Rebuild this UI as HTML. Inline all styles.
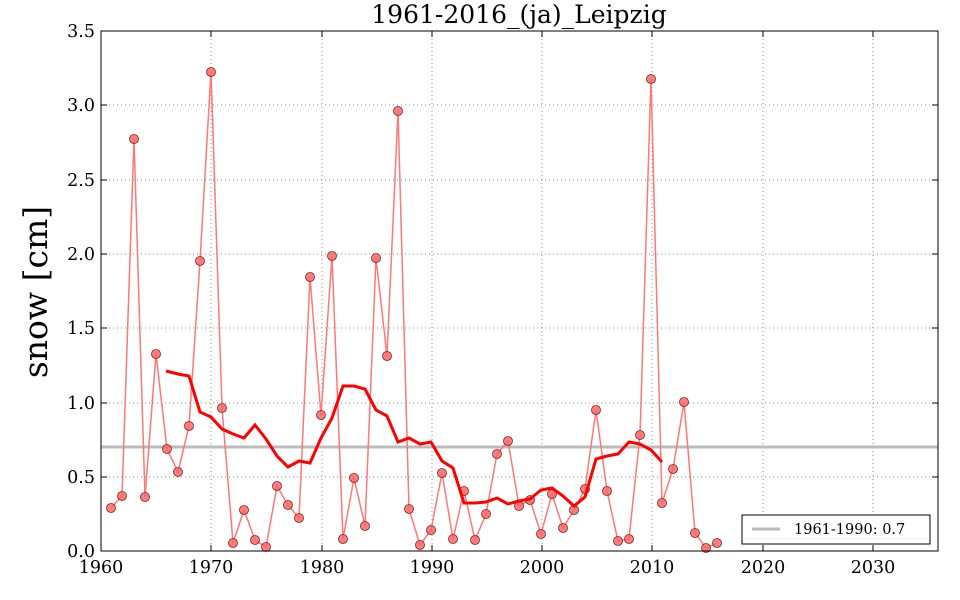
<!DOCTYPE html>
<html><head><meta charset="utf-8"><style>
html,body{margin:0;padding:0;background:#fff;}
svg{display:block;}
text{font-family:"DejaVu Serif","Liberation Serif",serif;fill:#000;}
</style></head><body>
<svg width="960" height="600" viewBox="0 0 960 600" xmlns="http://www.w3.org/2000/svg">
<rect width="960" height="600" fill="#fff"/>
<g stroke="#888" stroke-width="0.9" stroke-dasharray="1,3">
<line x1="211" y1="31" x2="211" y2="551"/><line x1="322" y1="31" x2="322" y2="551"/>
<line x1="432" y1="31" x2="432" y2="551"/><line x1="542" y1="31" x2="542" y2="551"/>
<line x1="652" y1="31" x2="652" y2="551"/><line x1="763" y1="31" x2="763" y2="551"/>
<line x1="873" y1="31" x2="873" y2="551"/>
<line x1="101" y1="477" x2="938" y2="477"/><line x1="101" y1="403" x2="938" y2="403"/>
<line x1="101" y1="328" x2="938" y2="328"/><line x1="101" y1="254" x2="938" y2="254"/>
<line x1="101" y1="180" x2="938" y2="180"/><line x1="101" y1="105" x2="938" y2="105"/>
</g>
<line x1="101" y1="447" x2="938" y2="447" stroke="#bbb" stroke-width="3"/>
<polyline fill="none" stroke="#f77" stroke-width="1.5" points="111,508 122,496 134,139 145,497 156,354 167,449 178,472 189,426 200,261 211,72 222,408 233,543 244,510 255,540 266,547 277,486 288,505 299,518 310,277 321,415 332,256 343,539 354,478 365,526 376,258 387,356 398,111 409,509 420,545 431,530 442,473 453,539 464,491 475,540 486,514 497,454 508,441 519,506 530,500 541,534 552,494 563,528 574,510 585,489 596,410 607,491 618,541 629,539 640,435 651,79 662,503 673,469 684,402 695,533 706,548 717,543"/>
<g fill="#f66" fill-opacity="0.85" stroke="#722" stroke-width="0.8">
<circle cx="111" cy="508" r="4.5"/><circle cx="122" cy="496" r="4.5"/><circle cx="134" cy="139" r="4.5"/><circle cx="145" cy="497" r="4.5"/><circle cx="156" cy="354" r="4.5"/><circle cx="167" cy="449" r="4.5"/><circle cx="178" cy="472" r="4.5"/><circle cx="189" cy="426" r="4.5"/><circle cx="200" cy="261" r="4.5"/><circle cx="211" cy="72" r="4.5"/><circle cx="222" cy="408" r="4.5"/><circle cx="233" cy="543" r="4.5"/><circle cx="244" cy="510" r="4.5"/><circle cx="255" cy="540" r="4.5"/><circle cx="266" cy="547" r="4.5"/><circle cx="277" cy="486" r="4.5"/><circle cx="288" cy="505" r="4.5"/><circle cx="299" cy="518" r="4.5"/><circle cx="310" cy="277" r="4.5"/><circle cx="321" cy="415" r="4.5"/><circle cx="332" cy="256" r="4.5"/><circle cx="343" cy="539" r="4.5"/><circle cx="354" cy="478" r="4.5"/><circle cx="365" cy="526" r="4.5"/><circle cx="376" cy="258" r="4.5"/><circle cx="387" cy="356" r="4.5"/><circle cx="398" cy="111" r="4.5"/><circle cx="409" cy="509" r="4.5"/><circle cx="420" cy="545" r="4.5"/><circle cx="431" cy="530" r="4.5"/><circle cx="442" cy="473" r="4.5"/><circle cx="453" cy="539" r="4.5"/><circle cx="464" cy="491" r="4.5"/><circle cx="475" cy="540" r="4.5"/><circle cx="486" cy="514" r="4.5"/><circle cx="497" cy="454" r="4.5"/><circle cx="508" cy="441" r="4.5"/><circle cx="519" cy="506" r="4.5"/><circle cx="530" cy="500" r="4.5"/><circle cx="541" cy="534" r="4.5"/><circle cx="552" cy="494" r="4.5"/><circle cx="563" cy="528" r="4.5"/><circle cx="574" cy="510" r="4.5"/><circle cx="585" cy="489" r="4.5"/><circle cx="596" cy="410" r="4.5"/><circle cx="607" cy="491" r="4.5"/><circle cx="618" cy="541" r="4.5"/><circle cx="629" cy="539" r="4.5"/><circle cx="640" cy="435" r="4.5"/><circle cx="651" cy="79" r="4.5"/><circle cx="662" cy="503" r="4.5"/><circle cx="673" cy="469" r="4.5"/><circle cx="684" cy="402" r="4.5"/><circle cx="695" cy="533" r="4.5"/><circle cx="706" cy="548" r="4.5"/><circle cx="717" cy="543" r="4.5"/>
</g>
<polyline fill="none" stroke="#f00" stroke-width="3" points="166,371 178,374 189,376 200,412 211,417 222,429 233,434 244,438 255,425 266,439 277,456 288,467 299,461 310,463 321,438 332,418 343,386 354,386 365,389 376,410 387,416 398,442 409,438 420,444 431,442 442,461 453,468 464,503 475,503 486,502 497,498 508,504 519,501 530,499 541,490 552,488 563,496 574,506 585,497 596,459 607,456 618,454 629,442 640,444 651,450 662,462"/>
<rect x="101" y="31" width="837" height="520" fill="none" stroke="#000" stroke-width="1"/>
<g stroke="#000" stroke-width="1">
<line x1="211" y1="551" x2="211" y2="545"/><line x1="322" y1="551" x2="322" y2="545"/><line x1="432" y1="551" x2="432" y2="545"/><line x1="542" y1="551" x2="542" y2="545"/><line x1="652" y1="551" x2="652" y2="545"/><line x1="763" y1="551" x2="763" y2="545"/><line x1="873" y1="551" x2="873" y2="545"/>
<line x1="211" y1="31" x2="211" y2="37"/><line x1="322" y1="31" x2="322" y2="37"/><line x1="432" y1="31" x2="432" y2="37"/><line x1="542" y1="31" x2="542" y2="37"/><line x1="652" y1="31" x2="652" y2="37"/><line x1="763" y1="31" x2="763" y2="37"/><line x1="873" y1="31" x2="873" y2="37"/>
<line x1="101" y1="477" x2="107" y2="477"/><line x1="101" y1="403" x2="107" y2="403"/><line x1="101" y1="328" x2="107" y2="328"/><line x1="101" y1="254" x2="107" y2="254"/><line x1="101" y1="180" x2="107" y2="180"/><line x1="101" y1="105" x2="107" y2="105"/>
<line x1="938" y1="477" x2="932" y2="477"/><line x1="938" y1="403" x2="932" y2="403"/><line x1="938" y1="328" x2="932" y2="328"/><line x1="938" y1="254" x2="932" y2="254"/><line x1="938" y1="180" x2="932" y2="180"/><line x1="938" y1="105" x2="932" y2="105"/>
</g>
<g font-size="17.5" text-anchor="middle">
<text x="101" y="573">1960</text><text x="211" y="573">1970</text><text x="322" y="573">1980</text><text x="432" y="573">1990</text><text x="542" y="573">2000</text><text x="652" y="573">2010</text><text x="763" y="573">2020</text><text x="873" y="573">2030</text>
</g>
<g font-size="17.5" text-anchor="end">
<text x="95" y="557">0.0</text><text x="95" y="483">0.5</text><text x="95" y="409">1.0</text><text x="95" y="334">1.5</text><text x="95" y="260">2.0</text><text x="95" y="186">2.5</text><text x="95" y="111">3.0</text><text x="95" y="37">3.5</text>
</g>
<text x="519" y="23" font-size="25" text-anchor="middle">1961-2016_(ja)_Leipzig</text>
<text transform="translate(47,292) rotate(-90)" font-size="33" text-anchor="middle">snow [cm]</text>
<rect x="742" y="515" width="188" height="29" fill="#fff" stroke="#000" stroke-width="1"/>
<line x1="752" y1="529" x2="780" y2="529" stroke="#bbb" stroke-width="3"/>
<text x="794" y="534" font-size="14.5">1961-1990: 0.7</text>
</svg>
</body></html>
